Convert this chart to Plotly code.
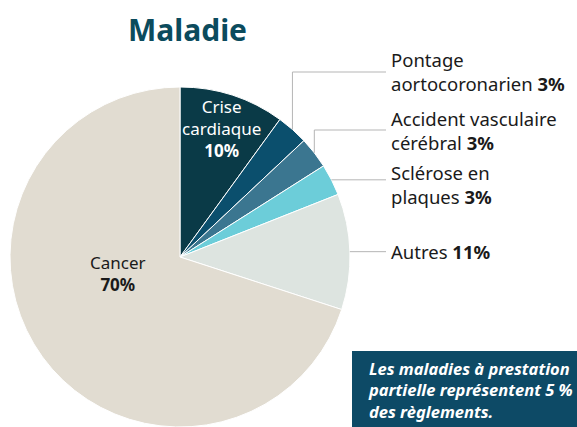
import math
import plotly.graph_objects as go

# ---- data ----
labels = ["Crise cardiaque", "Pontage aortocoronarien", "Accident vasculaire cérébral",
          "Sclérose en plaques", "Autres", "Cancer"]
values = [10, 3, 3, 3, 11, 70]
colors = ["#0a3a47", "#0b4f6d", "#3b7690", "#6ccdd9", "#dde4e0", "#e1dcd1"]
label_lines = [["Crise", "cardiaque"], ["Pontage", "aortocoronarien"],
               ["Accident vasculaire", "cérébral"], ["Sclérose en", "plaques"],
               ["Autres"], ["Cancer"]]
title_text = "Maladie"
note_text = "Les maladies à prestation<br>partielle représentent 5 %<br>des règlements."

# ---- layout geometry (pixels) ----
W, H = 577, 427
cx, cy, R = 180, 257, 170
FONT = "Noto Sans"

def px(x):
    return x / W

def py(y):
    return min(1.0, max(0.0, 1 - y / H))

fig = go.Figure(go.Pie(
    labels=labels, values=values, sort=False, direction="clockwise", rotation=0,
    marker=dict(colors=colors, line=dict(color="white", width=1)),
    textinfo="none", hoverinfo="label+percent", showlegend=False,
    domain=dict(x=[px(cx - R - 1), px(cx + R + 1)], y=[py(cy + R), py(cy - R)]),
))

total = sum(values)
cum = 0
mids = []
for v in values:
    mids.append((cum + v / 2) / total * 360)
    cum += v

shapes = []
annotations = []

# title
annotations.append(dict(x=px(187), y=py(30), xref="paper", yref="paper", text=f"<b>{title_text}</b>",
                        showarrow=False, font=dict(family=FONT, size=30, color="#0b4b5d"),
                        xanchor="center", yanchor="middle"))

def pct(v):
    return f"{round(v / total * 100)}%"

# inside labels
inside_pos = {0: (222, 128, "white"), 5: (118, 273, "#1a1a1a")}
for i, (x, y, col) in inside_pos.items():
    txt = "<br>".join(label_lines[i]) + f"<br><b>{pct(values[i])}</b>"
    annotations.append(dict(x=px(x), y=py(y), xref="paper", yref="paper", text=txt, showarrow=False,
                            font=dict(family=FONT, size=17, color=col), xanchor="center",
                            yanchor="middle", align="center"))

# outside labels with leader lines
label_x = 389
line_end = 386
label_y = {1: 72, 2: 130, 3: None, 4: None}
for i in [1, 2, 3, 4]:
    a = math.radians(mids[i])
    ex = cx + R * math.sin(a)
    ey = cy - R * math.cos(a)
    ly = label_y[i] if label_y[i] is not None else ey
    pts = [(ex, ey)]
    if abs(ly - ey) > 0.5:
        pts.append((ex, ly))
    pts.append((line_end, ly))
    path = "M " + " L ".join(f"{px(x)},{py(y)}" for x, y in pts)
    shapes.append(dict(type="path", path=path, xref="paper", yref="paper",
                       line=dict(color="#b5b5b5", width=1)))
    lines = label_lines[i][:]
    lines[-1] = lines[-1] + f" <b>{pct(values[i])}</b>"
    ty = ly + (5 if i == 3 else 0)
    annotations.append(dict(x=px(label_x), y=py(ty), xref="paper", yref="paper", text="<br>".join(lines),
                            showarrow=False, font=dict(family=FONT, size=18.5, color="#1a1a1a"),
                            xanchor="left", yanchor="middle", align="left"))

# note box
shapes.append(dict(type="rect", xref="paper", yref="paper", x0=px(352), x1=1.0, y0=0.0, y1=py(351),
                   fillcolor="#0d4a66", line=dict(width=0), layer="above"))
annotations.append(dict(x=px(366), y=py(390), xref="paper", yref="paper", text=f"<b><i>{note_text}</i></b>",
                        showarrow=False, font=dict(family=FONT, size=16.5, color="white"),
                        xanchor="left", yanchor="middle", align="left"))

fig.update_layout(width=W, height=H, margin=dict(l=0, r=0, t=0, b=0),
                  paper_bgcolor="white", plot_bgcolor="white",
                  shapes=shapes, annotations=annotations)
fig.write_html("out.html")
